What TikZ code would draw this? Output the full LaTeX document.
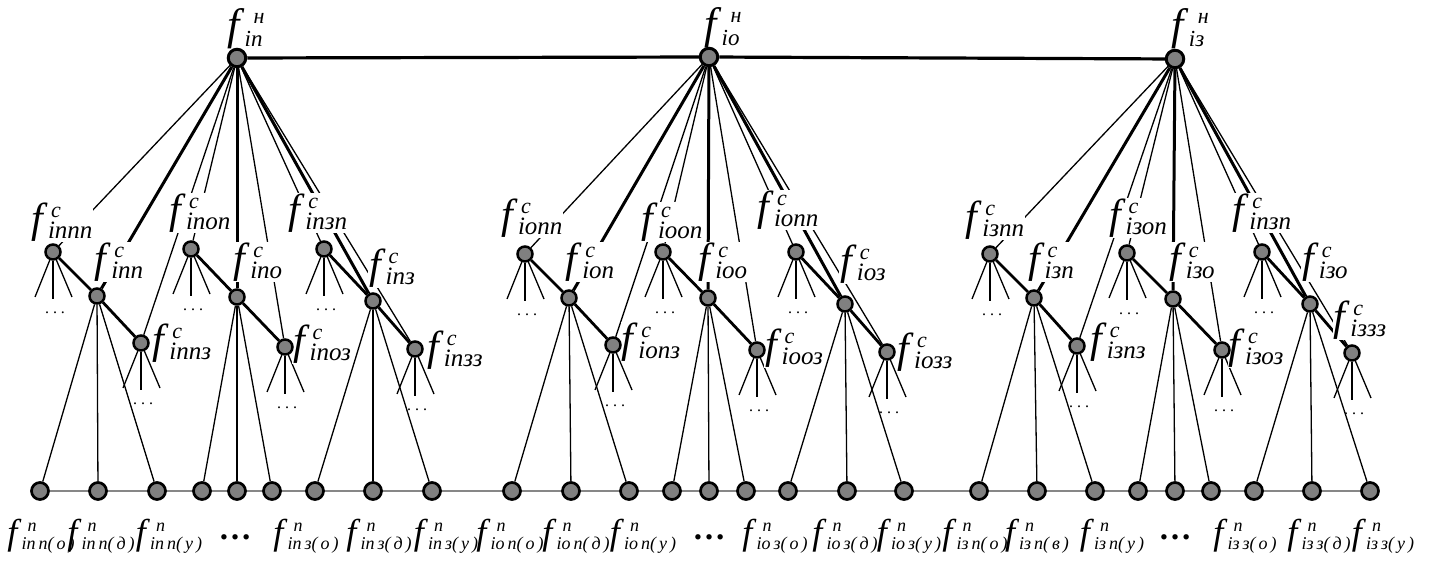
\documentclass[tikz,border=0pt]{standalone}
\usepackage{fontspec}
\setmainfont{Liberation Serif}
\usetikzlibrary{
	positioning,
	calc
}
\definecolor{NodeGray}{RGB}{128,128,128}
\definecolor{BusGray}{RGB}{135,135,135}

\pgfdeclarelayer{wires}
\pgfdeclarelayer{tags}
\pgfsetlayers{wires,tags,main}

% index letters of a function name
\newcommand{\supsz}{\fontsize{22}{22}\selectfont}
\newcommand{\subsz}{\fontsize{25}{25}\selectfont}
\newcommand{\fv}[3][3pt]{\textit{f}\makebox[0pt][l]{\kern#1\raisebox{0.36em}{\supsz\textit{#2}}}\raisebox{-0.15em}{\subsz\textit{#3}}}

\tikzset{
	topdot/.style={circle, draw=black, fill=NodeGray, line width=3pt, minimum size=17.5pt, inner sep=0pt},
	subdot/.style={circle, draw=black, fill=NodeGray, line width=2.5pt, minimum size=15pt, inner sep=0pt},
	leafdot/.style={circle, draw=black, fill=NodeGray, line width=2.7pt, minimum size=17pt, inner sep=0pt},
	busline/.style={line width=3.2pt},
	thickwire/.style={line width=3pt},
	thinwire/.style={line width=1.3pt},
	chainwire/.style={line width=2.8pt},
	leafbus/.style={BusGray, line width=1.2pt},
	toptag/.style={fill=white, inner sep=1pt, font=\fontsize{44}{44}\selectfont\def\subsz{\fontsize{23}{23}\selectfont}},
	subtag/.style={fill=white, inner sep=1pt, font=\fontsize{42}{42}\selectfont},
	leaftag/.style={inner sep=0.5pt, font=\fontsize{36}{36}\selectfont\def\supsz{\fontsize{18}{18}\selectfont}\def\subsz{\fontsize{18}{18}\selectfont}},
	fewdots/.style={inner sep=0pt, font=\fontsize{16}{16}\selectfont},
	bigdots/.style={inner sep=0pt, font=\fontsize{33}{33}\selectfont\bfseries}
}

\begin{document}
\begin{tikzpicture}[x=1pt, y=-1pt]
	\useasboundingbox (0,0) rectangle (1430,561);
	
	% upper level
	\node[topdot] (N1) at (237,58) {};
	\node[topdot] (N2) at (709,57) {};
	\node[topdot] (N3) at (1175,59) {};
	
	% subsystems and their leaves
	\foreach \p/\g/\lx/\ly/\mx/\my/\rx/\ry/\ax/\bx/\cx in {
		1/1/53/252/97/296/141/343/40/98/157,
		1/2/191/249/237/297/285/347/202/237/272,
		1/3/324/249/373/301/415/349/315/373/432,
		2/1/525/254/569/298/613/345/512/571/629,
		2/2/663/252/708/298/757/350/672/709/746,
		2/3/796/252/845/304/887/352/788/847/904,
		3/1/990/254/1034/298/1077/346/979/1037/1095,
		3/2/1127/253/1173/299/1222/350/1138/1175/1211,
		3/3/1262/252/1310/304/1352/353/1254/1312/1370}{
		\node[subdot] (sl\p\g) at (\lx,\ly) {};
		\node[subdot] (sm\p\g) at (\mx,\my) {};
		\node[subdot] (sr\p\g) at (\rx,\ry) {};
		\node[leafdot] (fa\p\g) at (\ax,491) {};
		\node[leafdot] (fb\p\g) at (\bx,491) {};
		\node[leafdot] (fc\p\g) at (\cx,491) {};
		\foreach \s in {sl,sr}{
			\coordinate (\s\p\g-a) at ($(\s\p\g)+(-18,45)$);
			\coordinate (\s\p\g-b) at ($(\s\p\g)+(0,47)$);
			\coordinate (\s\p\g-c) at ($(\s\p\g)+(19,45)$);
			\node[fewdots] (\s\p\g-d) at ($(\s\p\g)+(2,61)$) {.\ .\ .};
		}
	}
	
	\begin{pgfonlayer}{wires}
		\draw[busline] (N1) -- (N2) -- (N3);
		\foreach \p in {1,2,3}{
			\foreach \g in {1,2,3}{
				\draw[thinwire] (N\p) -- (sl\p\g);
				\draw[thickwire] (N\p) -- (sm\p\g);
				\draw[thinwire] (N\p) -- (sr\p\g);
				\draw[chainwire] (sl\p\g) -- (sm\p\g) -- (sr\p\g);
				\draw[thinwire] (sm\p\g) -- (fa\p\g);
				\draw[thinwire] (sm\p\g) -- (fb\p\g);
				\draw[thinwire] (sm\p\g) -- (fc\p\g);
				\foreach \s in {sl,sr}{
					\draw[thinwire] (\s\p\g) -- (\s\p\g-a);
					\draw[thinwire] (\s\p\g) -- (\s\p\g-b);
					\draw[thinwire] (\s\p\g) -- (\s\p\g-c);
				}
			}
		}
		\draw[leafbus] (fa11) -- (fc33);
	\end{pgfonlayer}
	
	\begin{pgfonlayer}{tags}
		\node[toptag] (tN1) at (245,29) {\fv[9pt]{н}{iп}};
		\node[toptag] (tN2) at (722,28) {\fv[9pt]{н}{iо}};
		\node[toptag] (tN3) at (1188,29) {\fv[9pt]{н}{iз}};
		\foreach \n/\x/\y/\t in {
			sl11/62/222/iппп, sm11/119/262/iпп, sr11/182/343/iппз,
			sl12/200/213/iпоп, sm12/258/262/iпо, sr12/322/344/iпоз,
			sl13/318/213/iпзп, sm13/392/268/iпз, sr13/455/350/iпзз,
			sl21/532/218/iопп, sm21/590/262/iоп, sr21/651/342/iопз,
			sl22/672/222/iооп, sm22/723/262/iоо, sr22/794/348/iооз,
			sl23/788/210/iопп, sm23/863/264/iоз, sr23/925/352/iозз,
			sl31/995/220/iзпп, sm31/1051/262/iзп, sr31/1118/342/iзпз,
			sl32/1138/218/iзоп, sm32/1192/262/iзо, sr32/1256/348/iзоз,
			sl33/1262/213/iпзп, sm33/1325/262/iзо, sr33/1360/320/iззз}{
			\node[subtag] (t\n) at (\x,\y) {\fv{с}{\t}};
		}
	\end{pgfonlayer}
	
	% names of the leaves
	\foreach \n/\x/\t in {
		fa11/41/iп\thinspace п(\thinspace о\thinspace), fb11/101/iп\thinspace п(\thinspace д\thinspace), fc11/169/iп\thinspace п(\thinspace у\thinspace),
		fa13/306/iп\thinspace з(\thinspace о\thinspace), fb13/379/iп\thinspace з(\thinspace д\thinspace), fc13/446/iп\thinspace з(\thinspace у\thinspace),
		fa21/510/iо\thinspace п(\thinspace о\thinspace), fb21/576/iо\thinspace п(\thinspace д\thinspace), fc21/643/iо\thinspace п(\thinspace у\thinspace),
		fa23/775/iо\thinspace з(\thinspace о\thinspace), fb23/845/iо\thinspace з(\thinspace д\thinspace), fc23/909/iо\thinspace з(\thinspace у\thinspace),
		fa31/975/iз\thinspace п(\thinspace о\thinspace), fb31/1037/iз\thinspace п(\thinspace в\thinspace), fc31/1112/iз\thinspace п(\thinspace у\thinspace),
		fa33/1245/iз\thinspace з(\thinspace о\thinspace), fb33/1319/iз\thinspace з(\thinspace д\thinspace), fc33/1383/iз\thinspace з(\thinspace у\thinspace)}{
		\node[leaftag] (t\n) at (\x,536) {\fv[6pt]{п}{\t}};
	}
	\node[bigdots] (gap1) at (235,537) {…};
	\node[bigdots] (gap2) at (709,537) {…};
	\node[bigdots] (gap3) at (1175,537) {…};
	
\end{tikzpicture}
\end{document}
